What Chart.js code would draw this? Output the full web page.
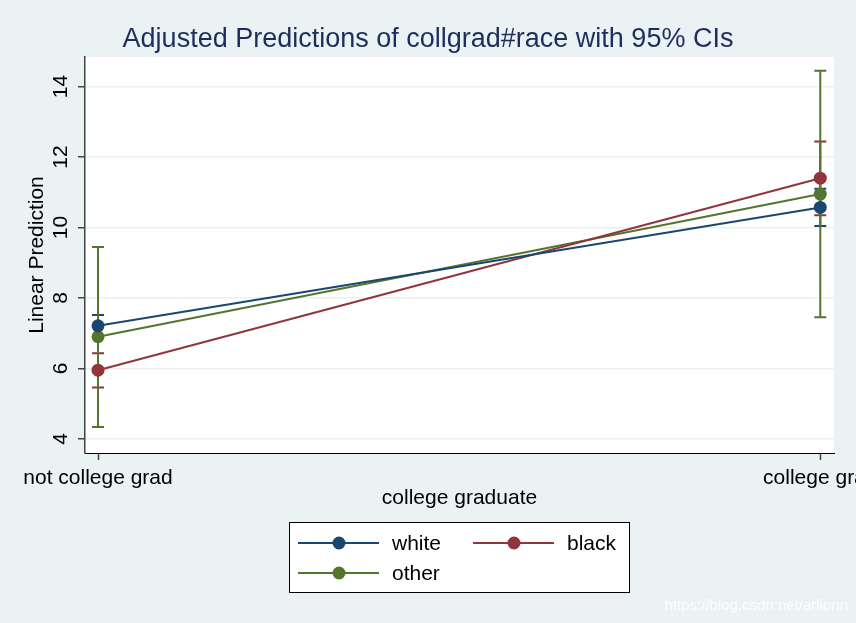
<!DOCTYPE html>
<html>
<head>
<meta charset="utf-8">
<script src="https://cdn.jsdelivr.net/npm/chart.js@4.4.0/dist/chart.umd.min.js"></script>
<style>
    html, body { margin: 0; padding: 0; background: #EAF2F3; overflow: hidden; }
    #wrap { width: 856px; height: 623px; }
</style>
</head>
<body>
<div id="wrap"><canvas id="marginsChart" width="856" height="623"></canvas></div>
<script>
const categories = ['not college grad', 'college grad'];
const categoryX = [0, 1];
const yTicks = [4, 6, 8, 10, 12, 14];

const whiteFit = [7.21, 10.57];
const whiteLow = [6.90, 10.04];
const whiteHigh = [7.52, 11.10];

const blackFit = [5.95, 11.40];
const blackLow = [5.46, 10.35];
const blackHigh = [6.43, 12.44];

const otherFit = [6.90, 10.95];
const otherLow = [4.34, 7.45];
const otherHigh = [9.45, 14.45];

const FONT = '"Liberation Sans", Arial, sans-serif';
const NAVY = '#1A476F';
const MAROON = '#90353B';
const GREEN = '#55752F';

const series = [
    { label: 'white', fit: whiteFit, low: whiteLow, high: whiteHigh, color: NAVY },
    { label: 'black', fit: blackFit, low: blackLow, high: blackHigh, color: MAROON },
    { label: 'other', fit: otherFit, low: otherLow, high: otherHigh, color: GREEN }
];

// background + white plot region
const backdropPlugin = {
    id: 'backdrop',
    beforeDraw(chart) {
        const { ctx, chartArea: a } = chart;
        ctx.save();
        ctx.fillStyle = '#EAF2F3';
        ctx.fillRect(0, 0, chart.width, chart.height);
        ctx.fillStyle = '#FFFFFF';
        ctx.fillRect(a.left, a.top, a.right - a.left, a.bottom - a.top);
        ctx.restore();
    }
};

// 95% CI caps, drawn under the connected lines
const ciPlugin = {
    id: 'ciCaps',
    beforeDatasetsDraw(chart) {
        const { ctx, scales: { x, y } } = chart;
        ctx.save();
        ctx.lineWidth = 2;
        series.forEach(s => {
            ctx.strokeStyle = s.color;
            categoryX.forEach((cx, j) => {
                const px = x.getPixelForValue(cx);
                const yl = y.getPixelForValue(s.low[j]);
                const yh = y.getPixelForValue(s.high[j]);
                ctx.beginPath();
                ctx.moveTo(px, yl);
                ctx.lineTo(px, yh);
                ctx.moveTo(px - 6, yl);
                ctx.lineTo(px + 6, yl);
                ctx.moveTo(px - 6, yh);
                ctx.lineTo(px + 6, yh);
                ctx.stroke();
            });
        });
        ctx.restore();
    }
};

// Stata style boxed legend + watermark
const legendBoxPlugin = {
    id: 'legendBox',
    afterDraw(chart) {
        const ctx = chart.ctx;
        const box = { x: 289.5, y: 522.5, w: 340, h: 70 };
        const slots = [
            { lx: 298, ly: 543 },
            { lx: 473, ly: 543 },
            { lx: 298, ly: 573 }
        ];
        ctx.save();
        ctx.fillStyle = '#FFFFFF';
        ctx.fillRect(box.x, box.y, box.w, box.h);
        ctx.strokeStyle = '#000000';
        ctx.lineWidth = 1;
        ctx.strokeRect(box.x, box.y, box.w, box.h);

        series.forEach((s, i) => {
            const p = slots[i];
            ctx.strokeStyle = s.color;
            ctx.lineWidth = 2;
            ctx.beginPath();
            ctx.moveTo(p.lx, p.ly);
            ctx.lineTo(p.lx + 81, p.ly);
            ctx.stroke();
            ctx.fillStyle = s.color;
            ctx.beginPath();
            ctx.arc(p.lx + 41, p.ly, 6.5, 0, Math.PI * 2);
            ctx.fill();
            ctx.fillStyle = '#000000';
            ctx.font = '21px ' + FONT;
            ctx.textAlign = 'left';
            ctx.textBaseline = 'middle';
            ctx.fillText(s.label, p.lx + 94, p.ly + 1);
        });

        ctx.font = '15px ' + FONT;
        ctx.textAlign = 'right';
        ctx.textBaseline = 'middle';
        ctx.fillStyle = 'rgba(255,255,255,0.9)';
        ctx.fillText('https://blog.csdn.net/arlionn', 848, 606);
        ctx.restore();
    }
};

const canvas = document.getElementById('marginsChart');
new Chart(canvas.getContext('2d'), {
    type: 'line',
    data: {
        datasets: series.map(s => ({
            label: s.label,
            data: categoryX.map((cx, j) => ({ x: cx, y: s.fit[j] })),
            borderColor: s.color,
            backgroundColor: s.color,
            borderWidth: 2,
            pointRadius: 6.5,
            pointBorderWidth: 0,
            pointBackgroundColor: s.color,
            tension: 0,
            fill: false
        }))
    },
    options: {
        responsive: false,
        animation: false,
        layout: { autoPadding: false, padding: { left: 22, right: 22, top: 0, bottom: 0 } },
        plugins: {
            legend: { display: false },
            tooltip: { enabled: false },
            title: {
                display: true,
                text: 'Adjusted Predictions of collgrad#race with 95% CIs',
                color: '#1E2D5B',
                font: { family: FONT, size: 27, weight: 'normal' },
                padding: { top: 23, bottom: 1.6 }
            }
        },
        scales: {
            x: {
                type: 'linear',
                min: -0.018,
                max: 1.019,
                afterBuildTicks: s => { s.ticks = categoryX.map(v => ({ value: v })); },
                afterFit: s => {
                    s.height = 170;
                    // let the last label run off the edge like the original
                    s.paddingLeft = 0;
                    s.paddingRight = 0;
                },
                ticks: {
                    callback: v => categories[categoryX.indexOf(v)],
                    color: '#000000',
                    font: { family: FONT, size: 21 },
                    padding: 6,
                    maxRotation: 0,
                    autoSkip: false
                },
                grid: {
                    drawOnChartArea: false,
                    drawTicks: true,
                    tickLength: 7,
                    tickColor: '#444444',
                    tickWidth: 1.5
                },
                border: { display: true, color: '#000000', width: 1 },
                title: {
                    display: true,
                    text: 'college graduate',
                    color: '#000000',
                    font: { family: FONT, size: 21 },
                    padding: { top: 0, bottom: 112 }
                }
            },
            y: {
                min: 3.6,
                max: 14.84,
                afterBuildTicks: s => { s.ticks = yTicks.map(v => ({ value: v })); },
                afterFit: s => { s.width = 63; },
                ticks: {
                    color: '#000000',
                    font: { family: FONT, size: 21 },
                    minRotation: 90,
                    maxRotation: 90,
                    crossAlign: 'center',
                    padding: 5
                },
                grid: {
                    color: '#E8F0F2',
                    lineWidth: 1.5,
                    drawTicks: true,
                    tickLength: 7,
                    tickColor: '#444444',
                    tickWidth: 1.5
                },
                border: { display: true, color: '#444444', width: 1.5 },
                title: {
                    display: true,
                    text: 'Linear Prediction',
                    color: '#000000',
                    font: { family: FONT, size: 21 },
                    padding: { top: 2.4, bottom: 0 }
                }
            }
        }
    },
    plugins: [backdropPlugin, ciPlugin, legendBoxPlugin]
});
</script>
</body>
</html>
